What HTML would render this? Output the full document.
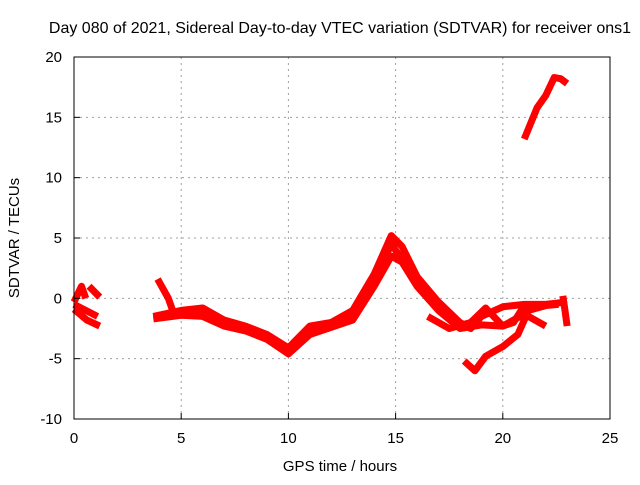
<!DOCTYPE html>
<html><head><meta charset="utf-8"><style>
body{margin:0;background:#fff}
svg text{font-family:"Liberation Sans",sans-serif;font-size:15px;fill:#000}
</style></head><body>
<svg id="c" width="640" height="480">
<text x="340" y="33" text-anchor="middle" style="font-size:16px">Day 080 of 2021, Sidereal Day-to-day VTEC variation (SDTVAR) for receiver ons1</text>
<text x="340" y="471" text-anchor="middle">GPS time / hours</text>
<text transform="translate(19,238) rotate(-90)" text-anchor="middle">SDTVAR / TECUs</text>
<g id="grid"></g><g id="series"></g><g id="axes"></g>
</svg>
<script>
const xTicks=[0,5,10,15,20,25];
const yTicks=[-10,-5,0,5,10,15,20];
const seriesA=[[0,-0.3],[0.35,1.0],[0.55,0]];
const seriesB=[[0.7,1.0],[1.2,0.1]];
const seriesC=[[0,-0.9],[0.6,-1.8],[1.2,-2.3]];
const seriesD=[[0,-0.5],[1.1,-1.5]];
const seriesMain=[[3.7,-1.5],[5,-1],[6,-0.8],[7,-1.8],[8,-2.3],[9,-3],[10,-4.1],[11,-2.3],[12,-2],[13,-1],[14,2],[14.8,5.2],[15.3,4.3],[16,1.8],[17,-0.3],[18,-2],[18.5,-2.5],[19,-1.5],[20,-0.7],[21,-0.5],[22,-0.5],[23,-0.3]];
const seriesSecond=[[3.7,-1.7],[5,-1.4],[6,-1.5],[7,-2.3],[8,-2.7],[9,-3.4],[10,-4.6],[11,-3],[12,-2.4],[13,-1.8],[14,1],[14.8,3.5],[15.3,3],[16,1],[17,-1],[18,-2.5],[19,-2.2],[20,-2.3],[21,-1.3],[22,-2.3]];
const seriesThird=[[5,-1.2],[6,-1.2],[7,-2],[8,-2.5],[9,-3.2],[10,-4.3],[11,-2.7],[12,-2.2],[13,-1.4],[14,1.5],[14.8,4.5],[16,1.4],[17,-0.6],[18,-2.2]];
const seriesSpike=[[3.9,1.6],[4.4,0],[4.6,-1]];
const seriesLow=[[18.2,-5.2],[18.7,-6],[19.2,-4.8],[20,-4],[20.7,-3],[21.2,-1],[22,-0.6],[22.6,-0.5]];
const seriesLoop=[[16.5,-1.5],[17.5,-2.5],[18.5,-2],[19.2,-0.8],[20,-2.3],[20.5,-2],[21,-0.6]];
const seriesTop=[[21,13.2],[21.3,14.5],[21.6,15.8],[22,16.8],[22.4,18.3],[22.7,18.2],[23,17.8]];
const seriesEnd=[[22.8,0.2],[22.9,-1],[23,-2.3]];
const allSeries=[seriesA,seriesB,seriesC,seriesD,seriesMain,seriesSecond,seriesThird,seriesSpike,seriesLow,seriesLoop,seriesTop,seriesEnd];
const X0=74,X1=610,Y0=419,Y1=57;
const xs=h=>X0+(h-0)/(25-0)*(X1-X0);
const ys=v=>Y0-(v+10)/30*(Y0-Y1);
const NS="http://www.w3.org/2000/svg";
function mk(t,a,p){const e=document.createElementNS(NS,t);for(const k in a)e.setAttribute(k,a[k]);p.appendChild(e);return e;}
const grid=document.getElementById('grid'),axes=document.getElementById('axes'),ser=document.getElementById('series');
xTicks.forEach(t=>{
 if(t>0&&t<25){const l=mk('line',{x1:xs(t),x2:xs(t),y1:Y1,y2:Y0,stroke:'#a0a0a0','stroke-dasharray':'2,4'},grid);
 
 }
 const tk=mk('line',{x1:xs(t),x2:xs(t),y1:Y0,y2:Y0-6,stroke:'#000'},axes);
 
 
 const tx=mk('text',{x:xs(t),y:Y0+24,'text-anchor':'middle'},axes);tx.textContent=t;
 
 
});
yTicks.forEach(t=>{
 if(t>-10&&t<20){const l=mk('line',{x1:X0,x2:X1,y1:ys(t),y2:ys(t),stroke:'#a0a0a0','stroke-dasharray':'2,4'},grid);
 
 }
 const tk=mk('line',{x1:X0,x2:X0+6,y1:ys(t),y2:ys(t),stroke:'#000'},axes);
 
 
 const tx=mk('text',{x:X0-12,y:ys(t)+5,'text-anchor':'end'},axes);tx.textContent=t;
 
 
});
const fr=mk('rect',{x:X0,y:Y1,width:X1-X0,height:Y0-Y1,fill:'none',stroke:'#000'},axes);


allSeries.forEach(s=>{
 const p=mk('polyline',{points:s.map(d=>xs(d[0])+','+ys(d[1])).join(' '),fill:'none',stroke:'#ff0000','stroke-width':7,'stroke-linejoin':'round'},ser);
 
 
});
</script>
</body></html>
